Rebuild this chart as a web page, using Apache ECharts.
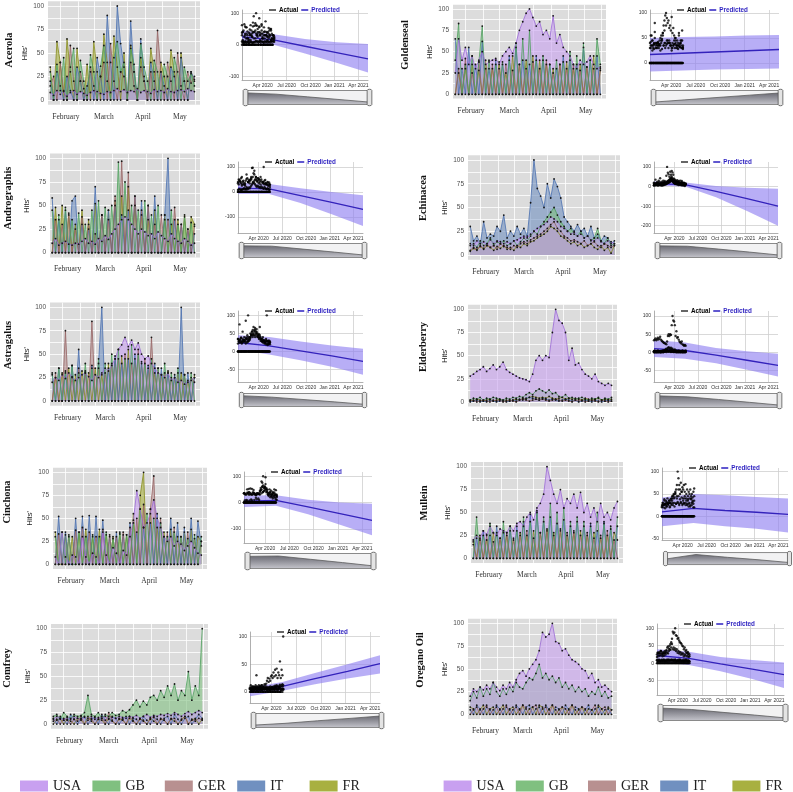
<!DOCTYPE html>
<html><head><meta charset="utf-8">
<script src="https://cdn.jsdelivr.net/npm/echarts@6/dist/echarts.min.js"></script>
<style>html,body{margin:0;padding:0;background:#fff}#c{width:793px;height:792px}</style>
</head><body><div id="c"></div><script>
// ---------- categories / ticks ----------
const countries = ['USA','GB','GER','IT','FR'];
const countryColors = ['#c8a0f0','#80c080','#b89090','#7090c0','#a8b040'];
const countryStroke = ['#9a6ad6','#4f9f5f','#946262','#4a70b0','#868c1e'];
// day of year 2020 (Jan 1 = 0) of each sample
const dayOfYear = [6,9,12,15,18,21,24,27,30,33,36, 39,42,45,48,51,54,57,60,63,66,69, 72,75,78,81,84,87,90,93,96,99,102, 105,108,111,114,117,120,123,126,129,132,135];
const monthGridDays = [15,31,45,60,75,91,106,121,136];
const monthLabelDays = [20,54,89,122];
const monthLabels = ['February','March','April','May'];
const tsYGrid = [0,12.5,25,37.5,50,62.5,75,87.5,100];
const tsYLabels = [0,25,50,75,100];
// forecast axis: months since Jan 1 2020
const fcTickMonths = [3,6,9,12,15];
const fcTickLabels = ['Apr 2020','Jul 2020','Oct 2020','Jan 2021','Apr 2021'];
const fcKnots = [0.4,4.35,8.3,12.25,16.2];

// ---------- series values (Hits') ----------
const acerola_USA = [8,5,10,6,9,4,8,10,6,9,7, 5,8,10,9,7,6,9,8,10,12,9, 11,8,10,9,12,8,10,9,7,11,9, 10,8,12,9,8,10,11,9,12,10,9];
const acerola_GB  = [30,0,38,10,45,0,35,55,0,42,20, 0,48,30,0,36,58,20,0,45,62,30, 40,0,55,38,0,60,35,20,0,42,30, 0,38,25,0,45,30,0,35,20,28,15];
const acerola_GER = [15,25,0,40,10,0,58,20,0,30,12, 0,35,15,0,25,40,0,60,20,0,30, 25,0,40,15,0,35,20,0,30,0,74, 30,0,40,20,0,50,15,0,30,18,25];
const acerola_IT  = [20,0,30,15,0,25,10,0,35,20,0, 15,30,0,45,25,0,90,40,0,100,60, 35,0,84,30,0,65,25,0,40,20,0, 30,15,0,35,25,0,45,20,0,30,22];
const acerola_FR  = [35,0,62,40,0,65,30,0,55,20,0, 38,0,62,30,0,70,40,0,68,35,0, 50,0,58,30,0,45,20,0,55,30,0, 40,25,0,53,30,0,50,20,0,30,20];

const goldenseal_USA = [25,65,40,55,35,45,30,40,50,35,38, 40,42,35,45,50,55,48,60,75,85,95, 100,90,80,85,70,75,65,92,60,70,55, 50,45,35,30,40,35,38,45,35,30,32];
const goldenseal_GB  = [40,83,0,35,0,45,0,38,80,0,40, 0,35,0,38,0,40,0,60,0,65,0, 75,0,40,0,45,0,35,0,40,0,38, 0,50,0,45,0,60,0,40,0,65,35];
const goldenseal_GER = [0,30,0,42,0,25,0,38,0,30,0, 35,0,30,0,35,0,28,0,35,0,30, 0,38,0,30,0,40,0,25,0,35,0, 30,0,35,0,28,0,32,0,30,0,28];
const goldenseal_IT  = [65,0,30,0,55,0,35,0,62,0,30, 0,40,0,35,0,45,0,55,0,40,0, 35,0,45,0,40,0,35,0,30,0,45, 0,40,0,35,0,55,0,40,0,45,0];
const goldenseal_FR  = [0,25,0,30,0,35,0,28,0,40,0, 30,0,38,0,25,0,45,0,35,0,40, 0,45,0,40,0,35,0,30,0,35,0, 38,0,30,0,35,0,32,0,45,0,30];

const andrographis_USA = [10,15,8,10,12,9,8,10,9,12,15, 10,12,9,15,12,18,14,20,25,30,35, 38,35,30,25,20,25,22,18,20,15,22, 18,15,12,20,15,12,10,15,12,8,10];
const andrographis_GB  = [45,0,40,0,48,0,35,0,42,0,30, 0,45,0,55,0,48,0,50,0,96,0, 75,0,50,0,45,0,55,0,40,0,50, 0,35,0,45,0,30,0,38,0,32,0];
const andrographis_GER = [0,35,0,30,0,42,0,25,0,38,0, 30,0,20,0,40,0,35,0,60,0,97, 0,85,0,60,0,45,0,50,0,30,0, 40,0,35,0,48,0,30,0,25,0,28];
const andrographis_IT  = [58,0,35,0,45,0,55,60,0,30,0, 25,0,70,0,40,0,45,0,50,0,40, 0,45,0,60,0,55,0,50,0,60,0, 0,40,100,0,35,0,30,0,25,0,20];
const andrographis_FR  = [0,48,0,50,0,40,0,30,0,45,0, 35,0,52,0,40,0,45,0,55,0,60, 0,70,0,50,0,40,0,35,0,45,0, 0,40,0,30,0,35,0,40,0,38,30];

const echinacea_USA = [12,10,15,12,14,10,16,12,15,14,12, 14,12,15,16,18,20,18,22,25,28,30, 32,35,40,38,35,30,28,25,22,24,20, 22,18,20,16,15,18,14,12,15,14,12];
const echinacea_GB  = [10,12,8,15,10,12,18,10,14,12,15, 10,12,15,10,14,18,15,20,25,22,30, 35,40,45,50,42,35,30,25,28,22,20, 25,18,20,15,18,28,15,12,18,10,12];
const echinacea_GER = [5,8,6,10,7,12,8,10,6,12,9, 8,6,10,8,12,14,12,16,18,20,22, 25,28,32,35,28,25,20,18,15,16,14, 12,15,10,12,14,10,8,12,10,8,10];
const echinacea_IT  = [30,15,20,12,35,18,22,20,30,25,42, 18,25,20,30,22,28,20,55,100,70,62, 50,75,60,80,72,60,40,35,30,25,32, 25,28,20,30,18,22,15,20,18,12,15];
const echinacea_FR  = [4,7,5,9,6,10,8,5,9,7,10, 6,8,5,10,8,12,10,14,15,18,20, 22,25,30,28,25,20,18,15,12,14,10, 12,8,10,12,8,6,10,5,8,2,10];

const astragalus_USA = [20,25,22,28,24,30,26,22,25,28,30, 26,22,28,25,30,35,32,38,45,55,60, 68,58,65,55,62,50,45,48,40,35,30, 28,25,30,22,25,20,22,18,20,22,25];
const astragalus_GB  = [30,0,35,0,32,0,38,0,30,0,40, 0,35,0,45,0,40,0,50,0,55,0, 45,0,60,0,50,0,40,0,45,0,35, 0,40,0,30,0,35,0,28,0,30,0];
const astragalus_GER = [0,30,0,0,75,0,25,0,35,0,30, 0,85,0,35,0,30,0,40,0,45,0, 50,0,40,0,55,0,45,0,68,0,35, 0,30,0,25,0,30,0,28,0,25,20];
const astragalus_IT  = [28,0,35,0,30,0,38,0,55,0,32, 0,38,0,40,100,0,35,0,48,0,40, 0,45,0,50,0,42,0,38,0,40,0, 35,0,30,0,28,0,100,0,30,0,25];
const astragalus_FR  = [0,25,0,30,0,35,0,28,0,32,0, 30,0,35,0,28,0,40,0,45,0,48, 0,55,0,45,0,40,0,35,0,30,0, 28,0,32,0,25,0,30,0,22,0,28];

const elderberry_USA = [28,30,33,35,38,33,36,40,35,38,43, 35,32,30,28,26,25,24,22,30,45,50, 45,50,48,75,100,88,85,75,45,58,40, 42,35,30,28,25,30,22,20,18,20,18];
const elderberry_GB  = [2,4,3,5,2,4,3,5,4,3,2, 4,3,5,4,6,5,8,10,8,12,14, 12,10,13,9,10,6,5,8,4,5,3, 4,5,3,2,4,3,5,2,4,3,5];
const elderberry_GER = [1,2,0,1,2,1,0,2,1,2,0, 1,2,1,0,2,3,2,1,2,3,2, 3,2,1,2,3,2,1,2,1,0,2, 1,2,0,1,2,1,0,2,1,0,1];
const elderberry_IT  = [0,1,2,0,1,0,2,1,0,1,2, 0,1,2,1,3,2,4,5,4,3,2, 4,3,2,3,2,1,2,3,2,1,2, 0,1,2,1,0,2,1,0,1,2,1];
const elderberry_FR  = [2,1,3,2,1,2,3,1,2,3,1, 2,1,2,3,2,4,3,5,6,5,4, 5,4,6,4,3,4,5,3,4,3,4, 3,2,4,3,2,3,4,2,3,2,3];

const cinchona_USA = [8,0,35,8,0,10,8,0,30,8,0, 12,8,0,35,10,0,18,12,0,15,10, 30,48,80,60,40,45,55,70,50,40,30, 25,30,20,25,22,15,20,25,18,12,10];
const cinchona_GB  = [30,0,35,0,32,0,0,35,0,30,0, 32,0,30,0,35,0,28,0,35,0,32, 0,45,0,60,0,55,0,50,0,45,0, 30,0,35,0,30,0,28,0,32,0,30];
const cinchona_GER = [0,33,0,0,30,0,37,0,40,0,35, 0,30,0,38,0,32,0,30,0,35,0, 40,0,50,0,65,0,60,96,0,50,0, 35,0,40,0,30,0,35,0,28,0,25];
const cinchona_IT  = [0,52,0,35,0,0,50,0,52,0,53, 0,52,0,48,0,30,0,35,0,32,0, 45,0,35,0,40,0,45,0,55,0,30, 0,50,0,45,0,40,0,50,0,47,20];
const cinchona_FR  = [35,0,0,32,0,30,0,35,0,38,0, 30,0,38,0,32,0,30,0,33,0,32, 0,55,0,75,100,0,60,0,40,0,35, 0,38,0,30,0,35,0,38,0,30,25];

const mullein_USA = [20,25,22,30,26,35,28,25,32,30,28, 35,30,38,40,35,45,50,42,55,60,70, 100,85,70,60,75,55,65,60,70,55,72, 50,60,45,55,40,60,45,50,42,55,62];
const mullein_GB  = [0,45,0,25,0,38,0,28,0,40,0, 35,0,30,0,45,0,40,0,50,0,45, 0,60,0,50,0,55,0,40,0,45,0, 40,0,35,0,50,0,38,0,35,0,45];
const mullein_GER = [15,0,20,0,25,0,18,0,22,0,28, 0,20,0,25,0,30,0,22,0,28,0, 30,0,25,0,32,0,28,0,30,0,25, 0,28,0,22,0,25,0,30,0,20,0];
const mullein_IT  = [0,22,0,30,0,25,0,35,0,28,0, 30,0,35,0,40,0,48,0,52,0,40, 0,45,0,38,0,42,0,35,0,40,0, 35,0,38,0,30,0,40,0,32,0,35];
const mullein_FR  = [18,0,25,0,20,0,28,0,22,0,25, 0,22,0,28,0,25,0,30,0,28,0, 32,0,28,0,30,0,25,0,28,0,30, 0,25,0,28,0,22,0,25,0,28,20];

const comfrey_USA = [5,8,6,4,7,5,8,6,5,7,6, 8,5,7,6,8,5,7,6,8,7,6, 8,7,9,6,8,10,7,9,8,10,9, 11,9,12,10,8,11,13,10,12,14,12];
const comfrey_GB  = [8,10,5,12,8,6,10,8,9,12,30, 10,8,12,6,10,8,12,9,10,14,12, 15,20,25,18,24,20,28,30,25,35,28, 40,30,42,25,35,30,55,25,40,30,100];
const comfrey_GER = [3,5,0,6,4,0,5,3,8,0,4, 6,0,5,8,0,12,4,0,6,5,0, 8,4,0,6,3,0,5,8,0,6,4, 0,5,6,0,4,8,0,5,3,6,4];
const comfrey_IT  = [6,0,8,4,0,10,5,0,6,8,0, 5,7,0,10,4,0,8,6,0,5,8, 0,6,5,0,8,4,0,7,5,0,6, 8,0,10,5,0,6,8,0,5,10,6];
const comfrey_FR  = [0,4,6,0,5,3,0,6,4,0,8, 3,0,5,4,0,6,3,0,5,4,0, 6,3,0,5,4,0,6,3,0,5,4, 0,6,3,0,5,8,0,4,6,0,5];

const oregano_USA = [20,28,25,30,27,32,28,35,30,26,32, 28,35,30,38,45,48,42,50,55,60,70, 90,85,88,100,80,78,70,72,65,60,58, 55,50,48,40,45,35,38,30,32,28,25];
const oregano_GB  = [15,25,18,30,20,28,22,35,25,20,28, 22,30,25,35,30,28,35,40,38,45,55, 40,45,38,42,35,40,30,35,28,32,25, 30,25,28,20,25,22,30,20,25,18,20];
const oregano_GER = [0,5,8,0,6,10,0,5,8,0,6, 10,0,5,8,0,10,6,0,8,10,0, 6,8,0,10,5,0,8,6,0,10,5, 0,8,6,0,5,10,0,6,8,0,5];
const oregano_IT  = [5,0,10,6,0,8,5,0,10,6,0, 8,5,0,10,6,0,8,10,0,6,8, 0,10,5,0,8,6,0,10,5,0,8, 6,0,5,10,0,6,8,0,5,6,0];
const oregano_FR  = [8,6,0,5,10,0,6,8,0,5,10, 0,6,8,0,5,10,0,6,8,0,10, 8,0,6,10,0,5,8,0,6,10,0, 5,8,0,6,5,0,10,6,0,8,5];

// ---------- forecast (at fcKnots) ----------
const acerola_pred = [25,15,-5,-25,-45],   acerola_low = [8,0,-28,-57,-88],      acerola_up = [45,33,18,8,2];
const goldenseal_pred = [17,19.5,22,24.5,27], goldenseal_low = [-17,-15,-13,-12,-11], goldenseal_up = [50,52,53,55,56];
const andrographis_pred = [15,12,-15,-42,-70], andrographis_low = [-8,-8,-45,-90,-137], andrographis_up = [37,32,15,0,-13];
const echinacea_pred = [15,10,-25,-62,-100], echinacea_low = [5,0,-55,-125,-200], echinacea_up = [25,20,2,-6,-12];
const astragalus_pred = [25,16,2,-12,-27], astragalus_low = [5,-8,-24,-42,-64], astragalus_up = [45,40,28,17,8];
const elderberry_pred = [10,5,-8,-22,-36], elderberry_low = [-13,-18,-30,-48,-67], elderberry_up = [33,27,12,3,-4];
const cinchona_pred = [5,8,-17,-42,-68], cinchona_low = [-17,-12,-45,-85,-125], cinchona_up = [27,28,10,0,-5];
const mullein_pred = [10,17.5,13,9,4.5], mullein_low = [-22,-15,-22,-28,-36], mullein_up = [42,50,47,43,40];
const comfrey_pred = [0,10,24,37,51], comfrey_low = [-8,2,14,24,33], comfrey_up = [8,18,34,50,66];
const oregano_pred = [22,14,-2,-17,-33], oregano_low = [4,-5,-23,-45,-71], oregano_up = [40,33,18,9,2];

const acerola_fcTicks = [-100,0,100], goldenseal_fcTicks = [0,50,100], andrographis_fcTicks = [-100,0,100];
const echinacea_fcTicks = [-200,-100,0,100], astragalus_fcTicks = [-50,0,50,100], elderberry_fcTicks = [-50,0,50,100];
const cinchona_fcTicks = [-100,0,100], mullein_fcTicks = [-50,0,50,100], comfrey_fcTicks = [0,50,100], oregano_fcTicks = [-50,0,50,100];

const herbs = ['Acerola','Goldenseal','Andrographis','Echinacea','Astragalus','Elderberry','Cinchona','Mullein','Comfrey','Oregano Oil'];

// tables assembled from the named arrays
const herbSeries = {
  'Acerola':[acerola_USA,acerola_GB,acerola_GER,acerola_IT,acerola_FR],
  'Goldenseal':[goldenseal_USA,goldenseal_GB,goldenseal_GER,goldenseal_IT,goldenseal_FR],
  'Andrographis':[andrographis_USA,andrographis_GB,andrographis_GER,andrographis_IT,andrographis_FR],
  'Echinacea':[echinacea_USA,echinacea_GB,echinacea_GER,echinacea_IT,echinacea_FR],
  'Astragalus':[astragalus_USA,astragalus_GB,astragalus_GER,astragalus_IT,astragalus_FR],
  'Elderberry':[elderberry_USA,elderberry_GB,elderberry_GER,elderberry_IT,elderberry_FR],
  'Cinchona':[cinchona_USA,cinchona_GB,cinchona_GER,cinchona_IT,cinchona_FR],
  'Mullein':[mullein_USA,mullein_GB,mullein_GER,mullein_IT,mullein_FR],
  'Comfrey':[comfrey_USA,comfrey_GB,comfrey_GER,comfrey_IT,comfrey_FR],
  'Oregano Oil':[oregano_USA,oregano_GB,oregano_GER,oregano_IT,oregano_FR]
};
const herbForecast = {
  'Acerola':[acerola_pred,acerola_low,acerola_up,acerola_fcTicks],
  'Goldenseal':[goldenseal_pred,goldenseal_low,goldenseal_up,goldenseal_fcTicks],
  'Andrographis':[andrographis_pred,andrographis_low,andrographis_up,andrographis_fcTicks],
  'Echinacea':[echinacea_pred,echinacea_low,echinacea_up,echinacea_fcTicks],
  'Astragalus':[astragalus_pred,astragalus_low,astragalus_up,astragalus_fcTicks],
  'Elderberry':[elderberry_pred,elderberry_low,elderberry_up,elderberry_fcTicks],
  'Cinchona':[cinchona_pred,cinchona_low,cinchona_up,cinchona_fcTicks],
  'Mullein':[mullein_pred,mullein_low,mullein_up,mullein_fcTicks],
  'Comfrey':[comfrey_pred,comfrey_low,comfrey_up,comfrey_fcTicks],
  'Oregano Oil':[oregano_pred,oregano_low,oregano_up,oregano_fcTicks]
};

// ---------- layout (pixels) ----------
const layout = {
  'Acerola':     {ts:[48,1.3,200,104.7],  nx:9,   ny:50,  fc:[242,10,368,80],   fy:[-112,110], sl:[90,15]},
  'Goldenseal':  {ts:[453,4.7,606,98.6],  nx:405, ny:45,  fc:[650,10,779,80],   fy:[-34,106],  sl:[90,15]},
  'Andrographis':{ts:[50,153.6,200,257.4],nx:8,   ny:198, fc:[238,162,363,233], fy:[-165,120], sl:[243,15]},
  'Echinacea':   {ts:[468,155.2,620,259.8],nx:423,ny:198, fc:[654,162,778,233], fy:[-237,125], sl:[243,15]},
  'Astragalus':  {ts:[50,302.6,200,405.7],nx:8,   ny:345, fc:[238,311,363,382], fy:[-84,112],  sl:[393,14]},
  'Elderberry':  {ts:[468,304.7,617,406.6],nx:423,ny:347, fc:[654,311,778,382], fy:[-82,114],  sl:[393,15]},
  'Cinchona':    {ts:[53,467.7,207,568.9],nx:7,   ny:502, fc:[244,472,372,543], fy:[-154,116], sl:[553,16]},
  'Mullein':     {ts:[471,462.1,623,562.9],nx:424,ny:503, fc:[662,468,788,540], fy:[-53,108],  sl:[552,13]},
  'Comfrey':     {ts:[51,623.9,208,728.8],nx:7,   ny:668, fc:[250,632,380,703], fy:[-20,108],  sl:[713,15]},
  'Oregano Oil': {ts:[468,618.8,617,718.9],nx:420,ny:660, fc:[657,624,784,695], fy:[-91,112],  sl:[705,16]}
};
const bottomLegendLefts = [[20,92.4,164.8,237.2,309.6],[443.6,515.8,588,660.2,732.4]];

const monthLabelFor = {}; monthLabelDays.forEach((d,i)=>monthLabelFor[d]=monthLabels[i]);
const fcLabelFor = {}; fcTickMonths.forEach((m,i)=>fcLabelFor[m]=fcTickLabels[i]);

const grid=[], xAxis=[], yAxis=[], series=[], dataZoom=[], legend=[], graphic=[];
const sans = 'Liberation Sans', serif = 'Liberation Serif';
const shadowFill = () => new echarts.graphic.LinearGradient(0,0,0,1,[{offset:0,color:'#cfcfd6'},{offset:1,color:'#66666f'}]);

herbs.forEach((h,k)=>{
  const L = layout[h];
  // ---- time-series panel ----
  const gi = grid.length;
  grid.push({left:L.ts[0], top:L.ts[1], width:L.ts[2]-L.ts[0], height:L.ts[3]-L.ts[1], show:true, backgroundColor:'#dcdcdc', borderWidth:0});
  xAxis.push({gridIndex:gi, type:'value', min:4, max:140,
    axisLine:{show:false, onZero:false}, axisTick:{show:false, customValues:monthGridDays},
    splitLine:{show:true, lineStyle:{color:'#ffffff', width:0.8}},
    axisLabel:{customValues:monthLabelDays, formatter:v=>monthLabelFor[v]||'', fontFamily:serif, fontSize:7.5, color:'#333', margin:8}});
  yAxis.push({gridIndex:gi, type:'value', min:-5, max:105,
    name:"Hits'", nameLocation:'middle', nameGap:14, nameRotate:90,
    nameTextStyle:{fontFamily:sans, fontSize:7.5, color:'#222'},
    axisLine:{show:false, onZero:false}, axisTick:{show:false, customValues:tsYGrid},
    axisLabel:{customValues:tsYLabels, fontFamily:sans, fontSize:6.5, color:'#4d4d4d', margin:4},
    splitLine:{show:true, lineStyle:{color:'#ffffff', width:0.8}}});
  const vals = herbSeries[h];
  [4,3,2,1,0].forEach(ci=>{
    series.push({type:'line', name:countries[ci], xAxisIndex:gi, yAxisIndex:gi,
      data: dayOfYear.map((d,i)=>[d, vals[ci][i]]),
      symbol:'circle', symbolSize:1.8, showSymbol:true,
      itemStyle:{color:'#161616'}, lineStyle:{color:countryStroke[ci], width:0.8},
      areaStyle:{color:countryColors[ci], opacity:0.6},
      silent:true, emphasis:{disabled:true}, z:2});
  });
  graphic.push({type:'text', x:L.nx, y:L.ny, rotation:Math.PI/2,
    style:{text:h, font:'bold 10.5px "Liberation Serif"', fill:'#111', align:'center', verticalAlign:'middle', textAlign:'center', textVerticalAlign:'middle'}});

  // ---- forecast panel ----
  const [pred, low, up, ticks] = herbForecast[h];
  const fi = grid.length;
  grid.push({left:L.fc[0], top:L.fc[1], width:L.fc[2]-L.fc[0], height:L.fc[3]-L.fc[1], show:false});
  xAxis.push({gridIndex:fi, type:'value', min:0.4, max:16.2,
    axisLine:{show:true, onZero:false, lineStyle:{color:'#9a9a9a', width:0.8}},
    axisTick:{show:false, customValues:fcTickMonths},
    axisLabel:{customValues:fcTickMonths, formatter:v=>fcLabelFor[v]||'', fontFamily:sans, fontSize:5, color:'#333', margin:3},
    splitLine:{show:true, lineStyle:{color:'#cfcfcf', width:0.8}}});
  yAxis.push({gridIndex:fi, type:'value', min:L.fy[0], max:L.fy[1],
    axisLine:{show:true, onZero:false, lineStyle:{color:'#9a9a9a', width:0.8}},
    axisTick:{show:false, customValues:ticks},
    axisLabel:{customValues:ticks, fontFamily:sans, fontSize:5, color:'#333', margin:3},
    splitLine:{show:true, lineStyle:{color:'#cfcfcf', width:0.8}}});
  series.push({type:'line', name:'Predicted', xAxisIndex:fi, yAxisIndex:fi,
    data: fcKnots.map((x,j)=>[x, pred[j]]), symbol:'none',
    lineStyle:{color:'#3322bb', width:1.3}, silent:true, emphasis:{disabled:true}, z:4});
  series.push({type:'custom', name:'band', xAxisIndex:fi, yAxisIndex:fi,
    data: fcKnots.map((x,j)=>[x, low[j], up[j]]), encode:{x:0, y:[1,2]},
    renderItem:(params, api)=>{
      if (params.dataIndex !== 0) return null;
      const upper = fcKnots.map((x,j)=>api.coord([x, up[j]]));
      const lower = fcKnots.map((x,j)=>api.coord([x, low[j]])).reverse();
      return {type:'polygon', shape:{points: upper.concat(lower)}, style:{fill:'rgba(140,125,240,0.62)'}};
    }, clip:true, silent:true, z:2});
  const pts = [];
  vals.forEach(arr=>arr.forEach((v,i)=>pts.push([dayOfYear[i]/30.44, v])));
  series.push({type:'scatter', name:'Actual', xAxisIndex:fi, yAxisIndex:fi, data:pts,
    symbolSize:2.4, itemStyle:{color:'#000'}, silent:true, emphasis:{disabled:true}, z:5});
  dataZoom.push({type:'slider', xAxisIndex:fi, left:L.fc[0], width:L.fc[2]-L.fc[0], top:L.sl[0], height:L.sl[1],
    start:0, end:100, filterMode:'none', zoomLock:true, showDetail:false, brushSelect:false, moveHandleSize:0,
    borderColor:'#8a8a8a', borderRadius:0, backgroundColor:'rgba(0,0,0,0)', fillerColor:'rgba(150,150,160,0.12)',
    dataBackground:{lineStyle:{color:'#555', width:0.8}, areaStyle:{color:shadowFill(), opacity:1}},
    selectedDataBackground:{lineStyle:{color:'#555', width:0.8}, areaStyle:{color:shadowFill(), opacity:1}},
    handleIcon:'path://M-3,1 C-3,-1 3,-1 3,1 L3,19 C3,21 -3,21 -3,19 Z', handleSize:'110%',
    handleStyle:{color:'#e4e4e4', borderColor:'#555', borderWidth:0.8}});
  legend.push({left:L.fc[0]+27, top:L.fc[1]-3, padding:0, orient:'horizontal', icon:'rect', itemWidth:7, itemHeight:1.5, itemGap:3,
    selectedMode:false, textStyle:{fontFamily:sans, fontSize:6.3, fontWeight:'bold', padding:[0,0,0,-2]},
    data:[{name:'Actual', itemStyle:{color:'#000'}, textStyle:{color:'#000'}},
          {name:'Predicted', itemStyle:{color:'#2b1fc0'}, textStyle:{color:'#2b1fc0'}}]});
});

bottomLegendLefts.forEach(row=>{
  row.forEach((lx,i)=>{
    legend.push({left:lx, top:779, padding:0, orient:'horizontal', icon:'rect', itemWidth:28, itemHeight:11,
      selectedMode:false, textStyle:{fontFamily:serif, fontSize:14, color:'#222'},
      data:[{name:countries[i], itemStyle:{color:countryColors[i]}}]});
  });
});

const chart = echarts.init(document.getElementById('c'), null, {renderer:'canvas'});
chart.setOption({animation:false, textStyle:{fontFamily:sans}, grid, xAxis, yAxis, series, dataZoom, legend, graphic});
</script></body></html>
